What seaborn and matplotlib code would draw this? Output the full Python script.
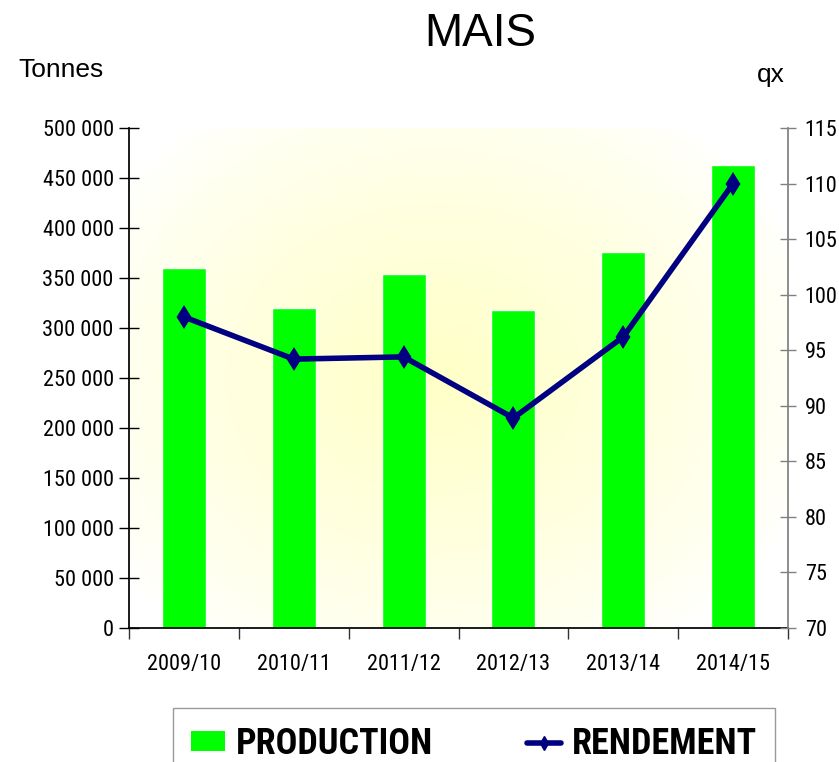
import numpy as np
import seaborn as sns
import matplotlib.pyplot as plt
from matplotlib.patches import Patch
from matplotlib.lines import Line2D
from matplotlib.ticker import FuncFormatter

campagnes = ["2009/10", "2010/11", "2011/12", "2012/13", "2013/14", "2014/15"]
production = [360000, 320000, 354000, 318000, 376000, 463000]
rendement = [98.0, 94.2, 94.4, 88.9, 96.2, 110.0]


def main():
    sns.set_theme(style="white")
    narrow = ["Roboto Condensed", "Liberation Sans", "DejaVu Sans"]
    plain = ["Liberation Sans", "DejaVu Sans"]
    plt.rcParams["font.family"] = narrow
    plt.rcParams["text.color"] = "black"
    plt.rcParams["xtick.labelcolor"] = "black"
    plt.rcParams["ytick.labelcolor"] = "black"

    fig = plt.figure(figsize=(8.39, 7.62), dpi=100)
    ax = fig.add_axes([129 / 839, 1 - 628 / 762, 659 / 839, 500 / 762])

    # radial yellow glow behind the bars
    yy, xx = np.mgrid[0:1:300j, 0:1:300j]
    r = np.sqrt(((xx - 0.47) / 0.6) ** 2 + ((yy - 0.5) / 0.65) ** 2)
    glow = np.clip(1 - r, 0, 1) ** 0.8
    img = np.ones((300, 300, 3))
    img[..., 2] = 1 - 0.22 * glow
    ax.imshow(img, extent=(0, 1, 0, 1), transform=ax.transAxes,
              aspect="auto", zorder=0)

    sns.barplot(x=campagnes, y=production, color="#00FF00", saturation=1,
                width=0.4, ax=ax, zorder=2)
    ax.set_xlim(-0.5, 5.5)
    ax.set_ylim(0, 500000)
    ax.set_yticks(np.arange(0, 500001, 50000))
    ax.yaxis.set_major_formatter(
        FuncFormatter(lambda v, p: f"{int(v):,}".replace(",", " ")))
    ax.set_xticks(np.arange(6))
    ax.set_xticklabels(campagnes)
    ax.set_xticks(np.arange(-0.5, 6, 1), minor=True)
    ax.tick_params(axis="x", which="major", length=0, pad=19, labelsize=16)
    ax.tick_params(axis="x", which="minor", length=8, width=1,
                   direction="out", color="#333333", bottom=True)
    ax.tick_params(axis="y", length=14, width=1, direction="inout",
                   color="black", labelsize=16, pad=4, left=True)
    for s in ["top", "right"]:
        ax.spines[s].set_visible(False)
    ax.spines["left"].set_color("black")
    ax.spines["bottom"].set_color("black")
    ax.set_xlabel("")
    ax.set_ylabel("")

    ax2 = ax.twinx()
    sns.pointplot(x=campagnes, y=rendement, color="#000080", markers="d",
                  markersize=8, linewidth=4, ax=ax2)
    ax2.set_xlim(-0.5, 5.5)
    ax2.set_ylim(70, 115)
    ax2.set_yticks(np.arange(70, 116, 5))
    ax2.tick_params(axis="y", length=12, width=1, direction="inout",
                    color="#808080", labelsize=16, pad=6, right=True)
    for s in ["top", "left", "bottom"]:
        ax2.spines[s].set_visible(False)
    ax2.spines["right"].set_color("#808080")
    ax2.set_ylabel("")
    ax2.grid(False)

    fig.text(0.573, 0.955, "MAIS", ha="center", va="center", fontsize=33,
             family=plain)
    fig.text(18 / 839, 1 - 70 / 762, "Tonnes", ha="left", va="center",
             fontsize=19, family=plain)
    fig.text(771 / 839, 1 - 75 / 762, "qx", ha="center", va="center",
             fontsize=19, family=plain)

    handles = [
        Patch(facecolor="#00FF00", edgecolor="none", label="PRODUCTION"),
        Line2D([0], [0], color="#000080", linewidth=4, marker="d",
               markersize=7, label="RENDEMENT"),
    ]
    leg = fig.legend(handles=handles, loc="upper left", ncol=2,
                     bbox_to_anchor=(173 / 839, -0.2, 602 / 839, 0.2 + 1 - 708 / 762),
                     mode="expand", frameon=True, fancybox=False,
                     prop={"weight": "bold", "size": 26},
                     handlelength=0.95, handleheight=0.45, handletextpad=0.3,
                     borderpad=0.5, borderaxespad=0)
    leg.get_frame().set_edgecolor("#808080")
    leg.get_frame().set_linewidth(1)

    plt.savefig("out.png", dpi=100)


if __name__ == "__main__":
    main()
